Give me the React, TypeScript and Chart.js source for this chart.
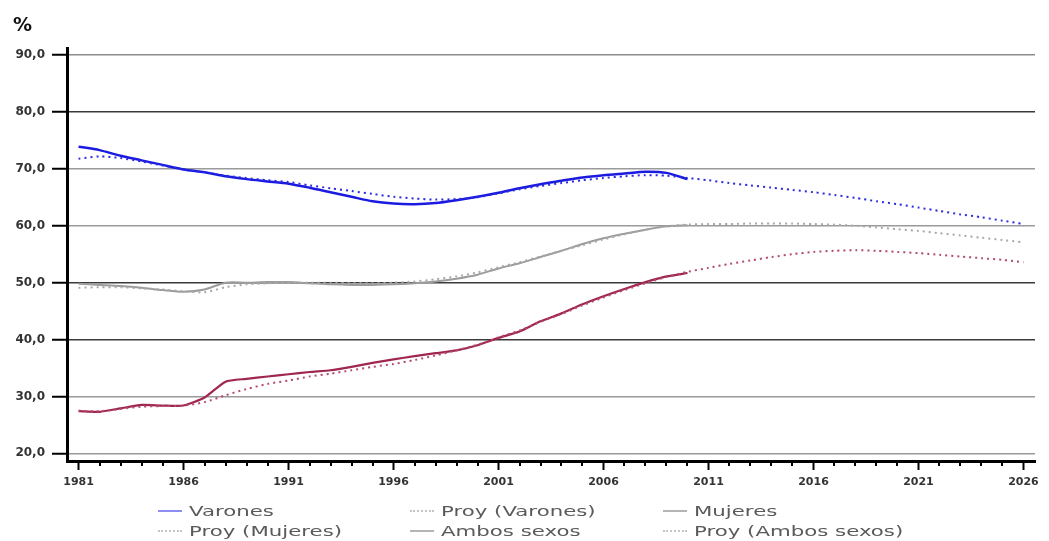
import React, { useEffect, useRef } from "react";
import { Chart, registerables } from "chart.js";

Chart.register(...registerables);

// ---- Data ----
const yearsObs = [
  1981, 1982, 1983, 1984, 1985, 1986, 1987, 1988, 1989, 1990,
  1991, 1992, 1993, 1994, 1995, 1996, 1997, 1998, 1999, 2000,
  2001, 2002, 2003, 2004, 2005, 2006, 2007, 2008, 2009, 2010,
];
const yearsProj = [
  1981, 1982, 1983, 1984, 1985, 1986, 1987, 1988, 1989, 1990,
  1991, 1992, 1993, 1994, 1995, 1996, 1997, 1998, 1999, 2000,
  2001, 2002, 2003, 2004, 2005, 2006, 2007, 2008, 2009, 2010,
  2011, 2012, 2013, 2014, 2015, 2016, 2017, 2018, 2019, 2020,
  2021, 2022, 2023, 2024, 2025, 2026,
];

const varones = [
  73.9, 73.3, 72.3, 71.5, 70.7, 69.9, 69.4, 68.7, 68.2, 67.8,
  67.4, 66.7, 65.9, 65.1, 64.3, 63.9, 63.8, 64.0, 64.5, 65.1,
  65.8, 66.6, 67.3, 67.9, 68.5, 68.9, 69.2, 69.5, 69.3, 68.2,
];
const proyVarones = [
  71.8, 72.2, 71.9, 71.3, 70.6, 69.9, 69.4, 68.8, 68.4, 68.0,
  67.7, 67.1, 66.6, 66.1, 65.6, 65.1, 64.8, 64.6, 64.7, 65.0,
  65.7, 66.4, 67.0, 67.5, 68.0, 68.4, 68.7, 68.9, 68.8, 68.4,
  68.0, 67.5, 67.1, 66.7, 66.3, 65.9, 65.4, 64.9, 64.3, 63.8,
  63.2, 62.6, 62.0, 61.5, 60.9, 60.3,
];
const mujeres = [
  27.4, 27.3, 27.9, 28.5, 28.4, 28.4, 29.8, 32.6, 33.1, 33.5,
  33.9, 34.3, 34.6, 35.2, 35.9, 36.5, 37.1, 37.6, 38.1, 39.0,
  40.3, 41.4, 43.2, 44.6, 46.2, 47.6, 48.9, 50.1, 51.1, 51.7,
];
const proyMujeres = [
  27.5, 27.4, 27.8, 28.2, 28.3, 28.4, 29.0, 30.2, 31.3, 32.2,
  32.8, 33.5, 34.0, 34.6, 35.2, 35.7, 36.4, 37.2, 38.1, 39.1,
  40.4, 41.6, 43.1, 44.5, 46.0, 47.4, 48.7, 49.9, 51.0, 51.9,
  52.6, 53.3, 53.9, 54.5, 55.0, 55.4, 55.6, 55.7, 55.6, 55.4,
  55.2, 54.9, 54.6, 54.3, 54.0, 53.6,
];
const ambos = [
  49.8, 49.6, 49.4, 49.1, 48.7, 48.4, 48.8, 50.0, 50.0, 50.1,
  50.1, 49.9, 49.7, 49.6, 49.6, 49.7, 49.9, 50.2, 50.7, 51.4,
  52.5, 53.4, 54.5, 55.6, 56.8, 57.8, 58.6, 59.3, 59.9, 60.1,
];
const proyAmbos = [
  49.1, 49.2, 49.2, 49.0, 48.8, 48.5, 48.3, 49.2, 49.7, 49.9,
  50.0, 50.0, 50.0, 49.9, 49.9, 50.0, 50.2, 50.6, 51.1, 51.8,
  52.7, 53.6, 54.6, 55.6, 56.6, 57.6, 58.5, 59.3, 59.9, 60.2,
  60.3, 60.3, 60.4, 60.4, 60.4, 60.3, 60.2, 60.0, 59.7, 59.4,
  59.1, 58.7, 58.3, 57.9, 57.5, 57.1,
];

const yTicks = [20, 30, 40, 50, 60, 70, 80, 90];
const xTickYears = yearsProj;
const xLabelYears = [1981, 1986, 1991, 1996, 2001, 2006, 2011, 2016, 2021, 2026];

const legendRow1 = ["Varones", "Proy (Varones)", "Mujeres"];
const legendRow2 = ["Proy (Mujeres)", "Ambos sexos", "Proy (Ambos sexos)"];

// ---- Styles ----
const gridColorFor: Record<number, string> = {
  90: "#8c8c8c",
  80: "#3a3a3a",
  70: "#9a9a9a",
  60: "#9a9a9a",
  50: "#3a3a3a",
  40: "#3a3a3a",
  30: "#9a9a9a",
  20: "#9a9a9a",
};

const FONT = "'DejaVu Sans', Verdana, sans-serif";

function pts(xs: number[], ys: number[]) {
  return xs.map((x, i) => ({ x, y: ys[i] }));
}

const minorTicks = {
  id: "minorTicks",
  afterDraw(chart: any) {
    const sx = chart.scales.x;
    const ctx = chart.ctx;
    ctx.save();
    ctx.strokeStyle = "#000";
    ctx.lineWidth = 2;
    ctx.beginPath();
    for (const yr of xTickYears) {
      if (xLabelYears.includes(yr)) continue;
      const px = Math.round(sx.getPixelForValue(yr));
      ctx.moveTo(px, sx.top);
      ctx.lineTo(px, sx.top + 5);
    }
    ctx.stroke();
    ctx.restore();
  },
};

type LegendSpec = { label: string; kind: "solid" | "dot"; color: string };
const legendStyle: Record<string, LegendSpec> = {
  "Varones": { label: "Varones", kind: "solid", color: "#8e8ef2" },
  "Proy (Varones)": { label: "Proy (Varones)", kind: "dot", color: "#c4c4c4" },
  "Mujeres": { label: "Mujeres", kind: "solid", color: "#b4b4b4" },
  "Proy (Mujeres)": { label: "Proy (Mujeres)", kind: "dot", color: "#c4c4c4" },
  "Ambos sexos": { label: "Ambos sexos", kind: "solid", color: "#b4b4b4" },
  "Proy (Ambos sexos)": { label: "Proy (Ambos sexos)", kind: "dot", color: "#c4c4c4" },
};

const colLeft = [158, 410, 663];
const rowCenter = [511, 531];

function LegendItem({ name, col, row }: { name: string; col: number; row: number }) {
  const s = legendStyle[name];
  return (
    <div
      style={{
        position: "absolute",
        left: colLeft[col],
        top: rowCenter[row] - 10,
        height: 20,
        display: "flex",
        alignItems: "center",
        whiteSpace: "nowrap",
      }}
    >
      <div
        style={{
          width: 24,
          height: 0,
          borderTop: s.kind === "solid" ? `2px solid ${s.color}` : `2px dotted ${s.color}`,
          marginRight: 7,
        }}
      />
      <span
        style={{
          fontFamily: FONT,
          fontSize: 14,
          color: "#5a5a5a",
          display: "inline-block",
          transform: "scaleX(1.52)",
          transformOrigin: "left center",
        }}
      >
        {s.label}
      </span>
    </div>
  );
}

export default function App() {
  const canvasRef = useRef<HTMLCanvasElement | null>(null);

  useEffect(() => {
    if (!canvasRef.current) return;
    const chart = new Chart(canvasRef.current, {
      type: "line",
      data: {
        datasets: [
          {
            label: "Proy (Ambos sexos)",
            data: pts(yearsProj, proyAmbos),
            borderColor: "#a8a8a8",
            borderWidth: 2,
            borderDash: [2, 4],
            pointRadius: 0,
            tension: 0.25,
          },
          {
            label: "Ambos sexos",
            data: pts(yearsObs, ambos),
            borderColor: "#9c9c9c",
            borderWidth: 2,
            pointRadius: 0,
            tension: 0.25,
          },
          {
            label: "Proy (Mujeres)",
            data: pts(yearsProj, proyMujeres),
            borderColor: "#b24a74",
            borderWidth: 2,
            borderDash: [2, 4],
            pointRadius: 0,
            tension: 0.25,
          },
          {
            label: "Mujeres",
            data: pts(yearsObs, mujeres),
            borderColor: "#a0264f",
            borderWidth: 2.2,
            pointRadius: 0,
            tension: 0.2,
          },
          {
            label: "Proy (Varones)",
            data: pts(yearsProj, proyVarones),
            borderColor: "#2b2be0",
            borderWidth: 2,
            borderDash: [2, 4],
            pointRadius: 0,
            tension: 0.25,
          },
          {
            label: "Varones",
            data: pts(yearsObs, varones),
            borderColor: "#1a1ae0",
            borderWidth: 2.5,
            pointRadius: 0,
            tension: 0.25,
          },
        ],
      },
      options: {
        animation: false,
        responsive: true,
        maintainAspectRatio: false,
        layout: { padding: { left: 0, top: 48, right: 14, bottom: 50 } },
        plugins: {
          legend: { display: false },
          tooltip: { enabled: false },
          title: { display: false },
        },
        scales: {
          x: {
            type: "linear",
            min: 1980.45,
            max: 2026.55,
            afterBuildTicks: (s: any) => {
              s.ticks = xTickYears.map((v) => ({ value: v }));
            },
            afterFit: (s: any) => {
              s.height = 30;
            },
            grid: {
              drawOnChartArea: false,
              drawTicks: true,
              tickLength: 9,
              tickWidth: 2,
              tickColor: (c: any) =>
                c.tick && xLabelYears.includes(c.tick.value) ? "#000" : "rgba(0,0,0,0)",
            },
            border: { color: "#000", width: 3 },
            ticks: {
              autoSkip: false,
              maxRotation: 0,
              minRotation: 0,
              padding: 6,
              color: "#333",
              font: { family: FONT, size: 11, weight: "bold" },
              callback: (v: any) => (xLabelYears.includes(Number(v)) ? String(v) : ""),
            },
          },
          y: {
            min: 18.65,
            max: 91.25,
            afterBuildTicks: (s: any) => {
              s.ticks = yTicks.map((v) => ({ value: v }));
            },
            afterFit: (s: any) => {
              s.width = 67;
            },
            grid: {
              color: (c: any) => (c.tick ? gridColorFor[c.tick.value] || "#999" : "#999"),
              lineWidth: 1.5,
              drawTicks: true,
              tickLength: 15,
              tickWidth: 2,
              tickColor: "#000",
            },
            border: { color: "#000", width: 3 },
            ticks: {
              padding: 7,
              color: "#333",
              font: { family: FONT, size: 12, weight: "bold" },
              callback: (v: any) => Number(v).toFixed(1).replace(".", ","),
            },
          },
        },
      },
      plugins: [minorTicks],
    } as any);
    return () => chart.destroy();
  }, []);

  return (
    <div
      style={{
        position: "fixed",
        left: 0,
        top: 0,
        width: 1049,
        height: 541,
        overflow: "hidden",
        background: "#fff",
      }}
    >
      <canvas ref={canvasRef} style={{ width: "1049px", height: "541px" }} />
      <div
        style={{
          position: "absolute",
          left: 13,
          top: 15,
          fontFamily: FONT,
          fontWeight: "bold",
          fontSize: 19,
          lineHeight: 1,
          color: "#111",
        }}
      >
        %
      </div>
      {legendRow1.map((n, i) => (
        <LegendItem key={n} name={n} col={i} row={0} />
      ))}
      {legendRow2.map((n, i) => (
        <LegendItem key={n} name={n} col={i} row={1} />
      ))}
    </div>
  );
}
